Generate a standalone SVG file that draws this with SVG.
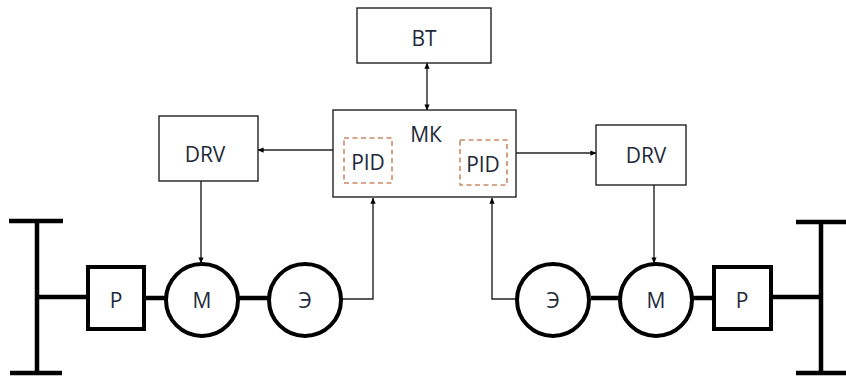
<svg xmlns="http://www.w3.org/2000/svg" width="846" height="376" viewBox="0 0 846 376">
<defs>
<style>
.box{fill:#fff;stroke:#222;stroke-width:1.4}
.pid{fill:none;stroke:#c98a66;stroke-width:1.6;stroke-dasharray:5 3.5}
.thick{fill:none;stroke:#000;stroke-width:4.5}
.shaft{fill:none;stroke:#000;stroke-width:4.5}
.ring{fill:#fff;stroke:#000;stroke-width:4}
.wire{fill:none;stroke:#222;stroke-width:1.4}
.t{font-family:"Open Sans","Liberation Sans",sans-serif;font-size:21px;fill:#1e2a3a;text-anchor:middle}
</style>
<marker id="ah" viewBox="0 0 8 8" refX="7.5" refY="4" markerWidth="6" markerHeight="6" markerUnits="userSpaceOnUse" orient="auto-start-reverse">
<path d="M0,0.5 L8,4 L0,7.5 Z" fill="#000"/>
</marker>
</defs>
<rect width="846" height="376" fill="#fff"/>
<g id="connectors">
<line class="wire" x1="427" y1="63" x2="427" y2="110" marker-start="url(#ah)" marker-end="url(#ah)"/>
<line class="wire" x1="333" y1="150" x2="258" y2="150" marker-end="url(#ah)"/>
<line class="wire" x1="516" y1="153" x2="596" y2="153" marker-end="url(#ah)"/>
<line class="wire" x1="201" y1="181" x2="201" y2="263" marker-end="url(#ah)"/>
<line class="wire" x1="654" y1="185" x2="654" y2="263" marker-end="url(#ah)"/>
<polyline class="wire" points="342,299 373,299 373,198" marker-end="url(#ah)"/>
<polyline class="wire" points="516,299 492,299 492,198" marker-end="url(#ah)"/>
<line class="shaft" x1="37" y1="297" x2="88" y2="297"/>
<line class="shaft" x1="144" y1="298" x2="166" y2="298"/>
<line class="shaft" x1="239" y1="298" x2="268" y2="298"/>
<line class="shaft" x1="591" y1="298" x2="619" y2="298"/>
<line class="shaft" x1="693" y1="298" x2="714" y2="298"/>
<line class="shaft" x1="771" y1="297" x2="821" y2="297"/>
</g>
<g id="wheel-left">
<line class="thick" x1="37" y1="221" x2="37" y2="373"/>
<line class="thick" x1="9" y1="221" x2="63" y2="221"/>
<line class="thick" x1="10" y1="373" x2="62" y2="373"/>
</g>
<g id="wheel-right">
<line class="thick" x1="821" y1="222" x2="821" y2="373"/>
<line class="thick" x1="796" y1="222" x2="846" y2="222"/>
<line class="thick" x1="796" y1="373" x2="846" y2="373"/>
</g>
<g id="bt"><rect class="box" x="357" y="8" width="134" height="55"/><text class="t" x="424" y="46">ВТ</text></g>
<g id="mk"><rect class="box" x="333" y="110" width="183" height="87"/><text class="t" x="426" y="142">МК</text>
<rect class="pid" x="344" y="138" width="48" height="45"/><text class="t" x="368" y="170">PID</text>
<rect class="pid" x="460" y="140" width="47" height="45"/><text class="t" x="483" y="172">PID</text></g>
<g id="drv-left"><rect class="box" x="159" y="116" width="99" height="65"/><text class="t" x="205" y="162">DRV</text></g>
<g id="drv-right"><rect class="box" x="596" y="125" width="90" height="60"/><text class="t" x="646" y="163">DRV</text></g>
<g id="p-left"><rect class="ring" x="88" y="267" width="56" height="62"/><text class="t" x="116" y="308">Р</text></g>
<g id="m-left"><circle class="ring" cx="202" cy="300" r="36"/><text class="t" x="202" y="308">М</text></g>
<g id="e-left"><circle class="ring" cx="305" cy="300" r="36"/><text class="t" x="305" y="308">Э</text></g>
<g id="e-right"><circle class="ring" cx="553" cy="300" r="36"/><text class="t" x="553" y="308">Э</text></g>
<g id="m-right"><circle class="ring" cx="656" cy="300" r="36"/><text class="t" x="656" y="308">М</text></g>
<g id="p-right"><rect class="ring" x="714" y="267" width="57" height="62"/><text class="t" x="742" y="308">Р</text></g>
</svg>
